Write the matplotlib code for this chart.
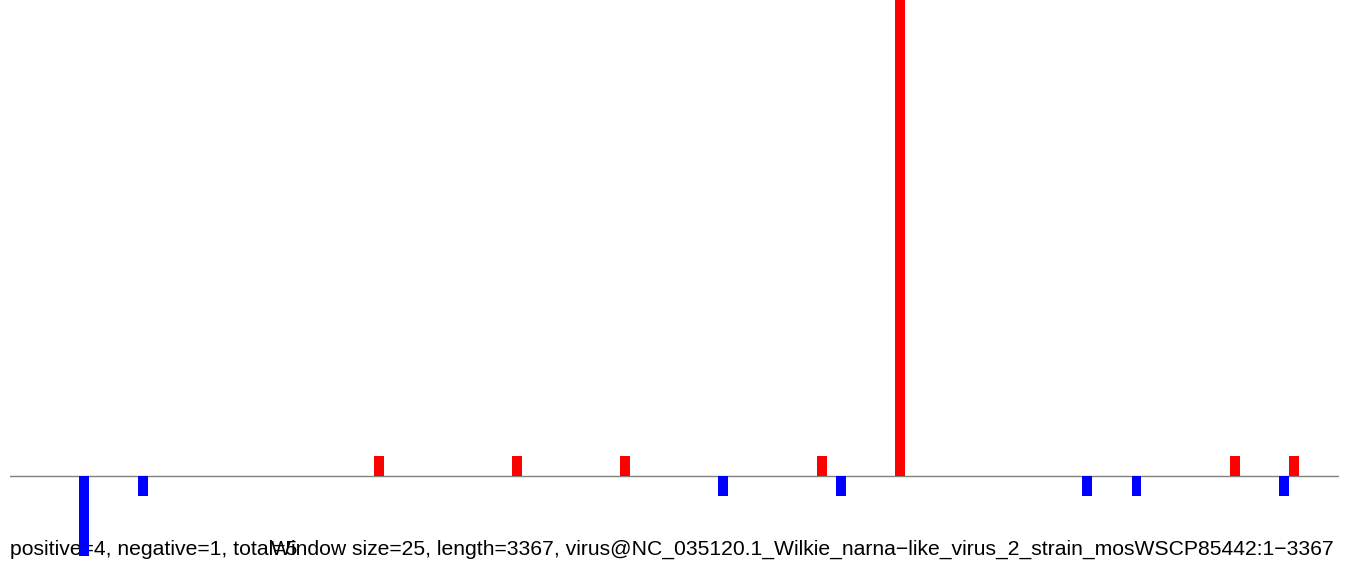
import matplotlib
matplotlib.use('Agg')
import matplotlib.pyplot as plt

# window start positions (nt) and read counts per window
window = 25
seq_len = 3367
pos_starts = [925, 1275, 1550, 2050, 2250, 3100, 3250]
pos_values = [1, 1, 1, 1, 24, 1, 1]
neg_starts = [175, 325, 1800, 2100, 2725, 2850, 3225]
neg_values = [-4, -1, -1, -1, -1, -1, -1]

left_text = 'positive=4, negative=1, total=5'
right_text = ('Window size=25, length=3367, '
              'virus@NC_035120.1_Wilkie_narna\u2212like_virus_2_strain_mosWSCP85442:1\u22123367')

plt.rcParams['font.family'] = ['Liberation Sans', 'DejaVu Sans']

fig = plt.figure(figsize=(13.5, 5.67), dpi=100)
ax = fig.add_axes([10 / 1350, 11.3 / 567, 1329 / 1350, 555.7 / 567])

# text below the bars (the big blue bar overlaps it)
ax.text(10 / 1350, 1 - 555 / 567, left_text, ha='left', va='baseline', fontsize=15.25,
        transform=fig.transFigure, clip_on=False, zorder=1)
ax.text(1334 / 1350, 1 - 555 / 567, right_text, ha='right', va='baseline', fontsize=15.25,
        transform=fig.transFigure, clip_on=False, zorder=1)

ax.bar(pos_starts, pos_values, width=window, align='edge', color='red', linewidth=0, zorder=3)
ax.bar(neg_starts, neg_values, width=window, align='edge', color='blue', linewidth=0, zorder=3)
ax.axhline(0, color='#808080', linewidth=1, zorder=2)

ax.set_xlim(0, 3377)
ax.set_ylim(-4, 23.8)
ax.axis('off')

fig.savefig('out.png', dpi=100)
